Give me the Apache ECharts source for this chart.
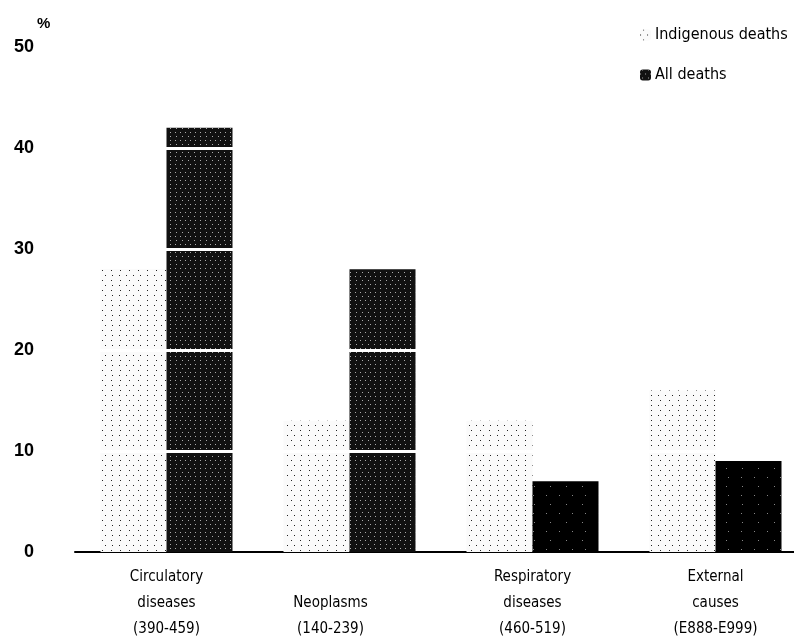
<!DOCTYPE html>
<html>
<head>
<meta charset="utf-8">
<script src="https://cdn.jsdelivr.net/npm/echarts@6/dist/echarts.min.js"></script>
<style>
  html, body { margin: 0; padding: 0; background: #fff; overflow: hidden; }
  /* a bit wider than the window so the last bar pair sits where the original has it */
  #chart { width: 807px; height: 642px; }
</style>
</head>
<body>
<div id="chart"></div>
<script>
// categories (ICD codes in brackets)
const categories = [
  'Circulatory\ndiseases\n(390-459)',
  '\nNeoplasms\n(140-239)',
  'Respiratory\ndiseases\n(460-519)',
  'External\ncauses\n(E888-E999)'
];
const indigenousDeaths = [28, 13, 13, 16];
const allDeaths = [42, 28, 7, 9];
const yTicks = [10, 20, 30, 40];

const FONT = 'DejaVu Sans Condensed, Liberation Sans, Arial, sans-serif';

// light stipple for indigenous, dark stipple for all deaths
const lightDecal = {
  symbol: 'rect', symbolSize: 1, color: '#222',
  dashArrayX: [[1, 6], [0, 3, 1, 5]], dashArrayY: [1, 4]
};
const darkDecal = {
  symbol: 'rect', symbolSize: 1, color: '#aaa',
  dashArrayX: [[1, 4], [0, 2, 1, 3]], dashArrayY: [1, 3]
};
const blackDecal = {
  symbol: 'rect', symbolSize: 1, color: '#888',
  dashArrayX: [[1, 12], [0, 6, 1, 9]], dashArrayY: [1, 8]
};

const chart = echarts.init(document.getElementById('chart'));

chart.setOption({
  backgroundColor: '#fff',
  animation: false,
  textStyle: { fontFamily: FONT },
  grid: { left: 75, right: 0, top: 47, bottom: 89 },
  graphic: [{
    type: 'text', left: 37, top: 16,
    style: { text: '%', fontSize: 15, fontWeight: 'bold', fill: '#000', fontFamily: 'Liberation Sans, Arial, sans-serif' }
  }],
  legend: {
    orient: 'vertical',
    left: 640,
    top: 27,
    padding: 0,
    itemGap: 24,
    itemWidth: 11,
    itemHeight: 11,
    textStyle: { fontSize: 16, color: '#000', fontFamily: FONT, padding: [0, 0, 0, -1] },
    data: ['Indigenous deaths', 'All deaths']
  },
  xAxis: {
    type: 'category',
    data: categories,
    axisLine: { lineStyle: { color: '#000', width: 2 } },
    axisTick: { show: false },
    axisLabel: {
      interval: 0,
      margin: 12,
      color: '#000',
      fontSize: 15,
      lineHeight: 26,
      fontFamily: FONT,
      formatter: function (v, i) {
        if (i === 1) {
          return v.split('\n').map(s => s ? '{n|' + s + '}' : '').join('\n');
        }
        return v;
      },
      rich: { n: { fontSize: 15, lineHeight: 26, padding: [0, 38, 0, 0], fontFamily: FONT } }
    }
  },
  yAxis: {
    type: 'value',
    min: 0,
    max: 50,
    interval: 10,
    axisLine: { show: false },
    axisTick: { show: false },
    splitLine: { show: false },
    axisLabel: { color: '#000', fontSize: 18, fontWeight: 'bold', margin: 41, fontFamily: 'Liberation Sans, Arial, sans-serif' }
  },
  series: [
    {
      name: 'Indigenous deaths',
      type: 'bar',
      barWidth: 66,
      barGap: '0%',
      itemStyle: { color: '#fafafa', decal: lightDecal },
      data: indigenousDeaths
    },
    {
      name: 'All deaths',
      type: 'bar',
      barWidth: 66,
      barGap: '0%',
      itemStyle: { color: '#111', decal: darkDecal },
      data: allDeaths.map((v, i) => i < 2 ? v : { value: v, itemStyle: { color: '#000', decal: blackDecal } }),
      markLine: {
        silent: true,
        symbol: 'none',
        label: { show: false },
        lineStyle: { color: '#fff', width: 3, type: 'solid' },
        data: yTicks.map(t => ({ yAxis: t }))
      }
    }
  ]
});
</script>
</body>
</html>
